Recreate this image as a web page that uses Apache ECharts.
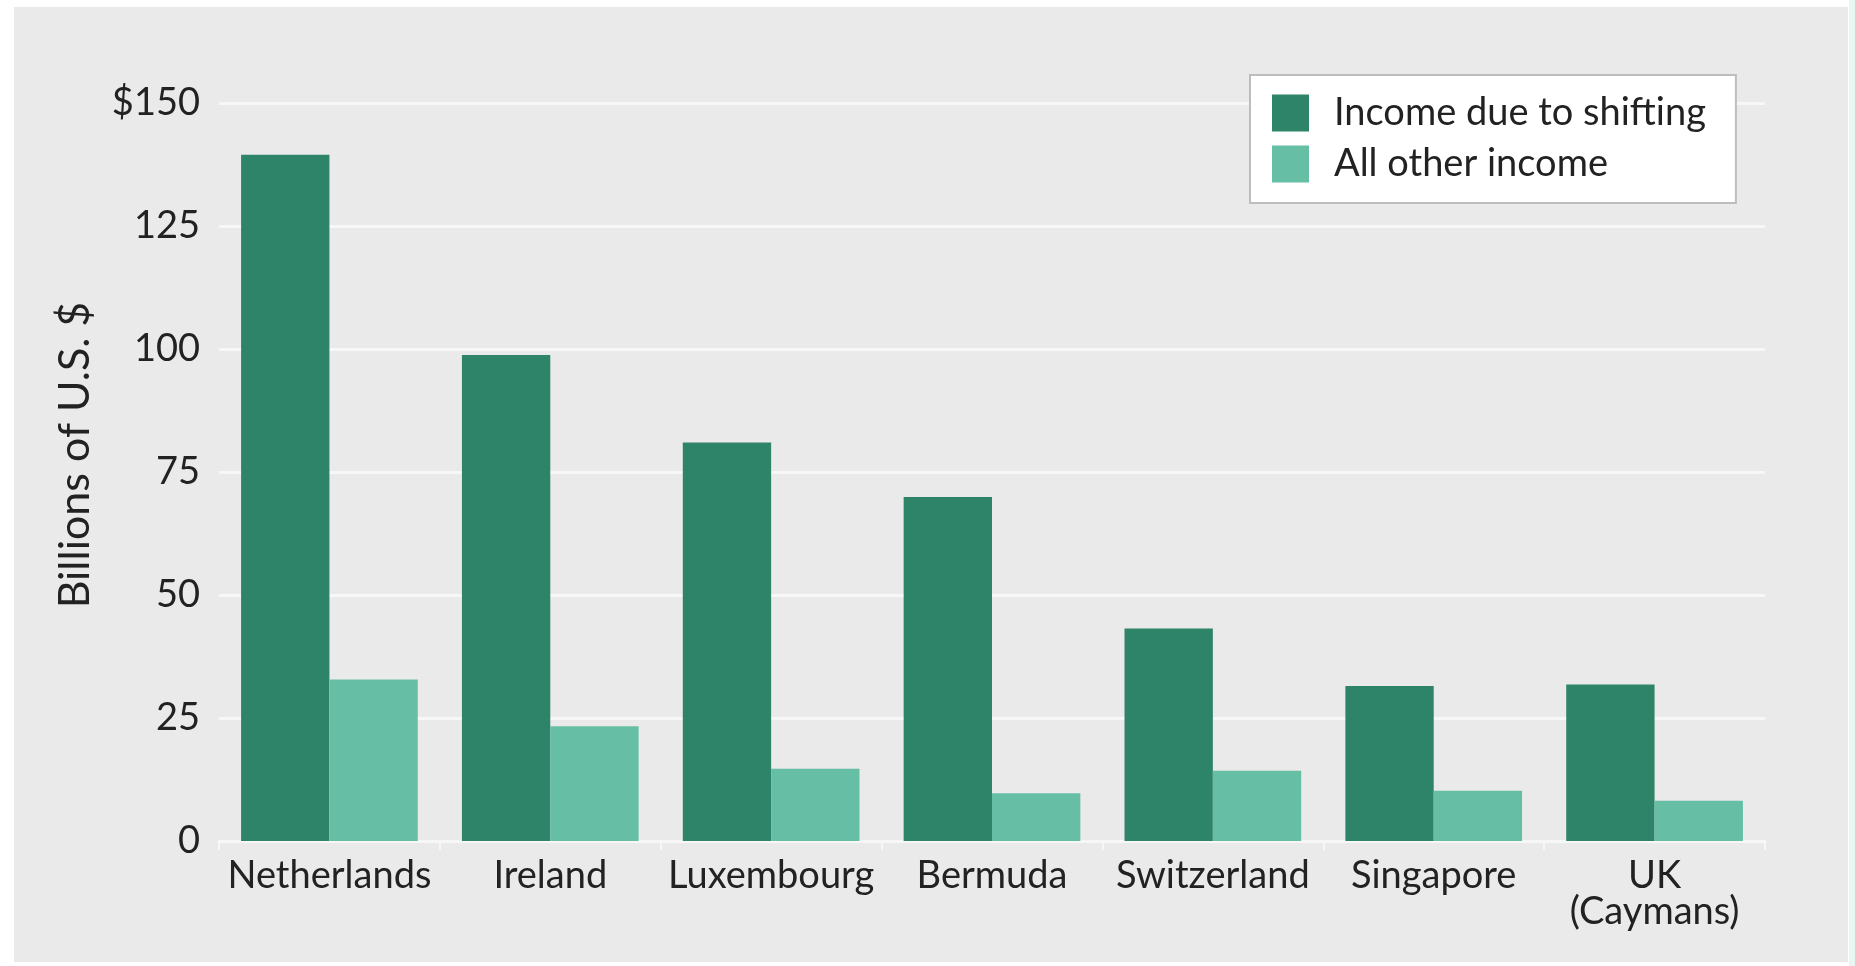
<!DOCTYPE html>
<html>
<head>
<meta charset="utf-8">
<script src="https://cdn.jsdelivr.net/npm/echarts@6/dist/echarts.min.js"></script>
<style>
  html, body { margin: 0; padding: 0; background: #ffffff; }
  #wrap { position: relative; width: 1855px; height: 966px; background: #ffffff; overflow: hidden; }
  #bg { position: absolute; left: 14px; top: 7px; width: 1834px; height: 955px; background: #eaeaea; }
  #edge { position: absolute; left: 1849px; top: 0; width: 6px; height: 966px; background: #e8f7f2; }
  #chart { position: absolute; left: 0; top: 0; width: 1855px; height: 966px; }
</style>
</head>
<body>
<div id="wrap">
  <div id="bg"></div>
  <div id="edge"></div>
  <div id="chart"></div>
</div>
<script>
const categories = ['Netherlands', 'Ireland', 'Luxembourg', 'Bermuda', 'Switzerland', 'Singapore', 'UK\n(Caymans)'];
const incomeShifting = [139.5, 98.8, 81.0, 69.9, 43.2, 31.5, 31.8];
const otherIncome = [32.8, 23.3, 14.7, 9.7, 14.3, 10.2, 8.2];
const seriesNames = ['Income due to shifting', 'All other income'];
const yTickValues = [0, 25, 50, 75, 100, 125, 150];
const yTickLabels = ['0', '25', '50', '75', '100', '125', '$150'];
const yAxisTitle = 'Billions of U.S. $';

const FONT = 'Lato';
const chart = echarts.init(document.getElementById('chart'), null, { renderer: 'canvas' });

chart.setOption({
  backgroundColor: 'transparent',
  animation: false,
  textStyle: { fontFamily: FONT, color: '#222' },
  grid: { left: 219, right: 90, top: 103, bottom: 125, containLabel: false },
  legend: {
    orient: 'vertical',
    left: 1250,
    top: 75,
    data: seriesNames,
    backgroundColor: '#ffffff',
    borderColor: '#bdbdbd',
    borderWidth: 2,
    borderRadius: 0,
    padding: [19, 30, 20, 22],
    itemWidth: 37,
    itemHeight: 37,
    itemGap: 13,
    icon: 'rect',
    textStyle: { fontFamily: FONT, fontSize: 38, color: '#222', padding: [0, 0, 0, 20] }
  },
  xAxis: {
    type: 'category',
    data: categories,
    axisLine: { show: true, lineStyle: { color: '#f7f7f7', width: 3 } },
    axisTick: { show: true, length: 9, lineStyle: { color: '#f7f7f7', width: 2 } },
    axisLabel: { fontFamily: FONT, fontSize: 38, lineHeight: 36, color: '#222', margin: 17, interval: 0 },
    splitLine: { show: false }
  },
  yAxis: {
    type: 'value',
    min: 0,
    max: 150,
    interval: 25,
    name: yAxisTitle,
    nameLocation: 'middle',
    nameGap: 122,
    nameRotate: 90,
    nameTextStyle: { fontFamily: FONT, fontSize: 43, color: '#222', padding: [0, 0, 0, 34] },
    axisLine: { show: false },
    axisTick: { show: false },
    axisLabel: {
      fontFamily: FONT, fontSize: 38, color: '#222', margin: 19,
      formatter: function (v) {
        const i = yTickValues.indexOf(v);
        return i >= 0 ? yTickLabels[i] : String(v);
      }
    },
    splitLine: { show: true, lineStyle: { color: '#f7f7f7', width: 3 } }
  },
  series: [
    {
      name: seriesNames[0],
      type: 'bar',
      data: incomeShifting,
      itemStyle: { color: '#2e8468' },
      barGap: '0%',
      barCategoryGap: '20%'
    },
    {
      name: seriesNames[1],
      type: 'bar',
      data: otherIncome,
      itemStyle: { color: '#66bfa5' },
      barGap: '0%',
      barCategoryGap: '20%'
    }
  ]
});
</script>
</body>
</html>
